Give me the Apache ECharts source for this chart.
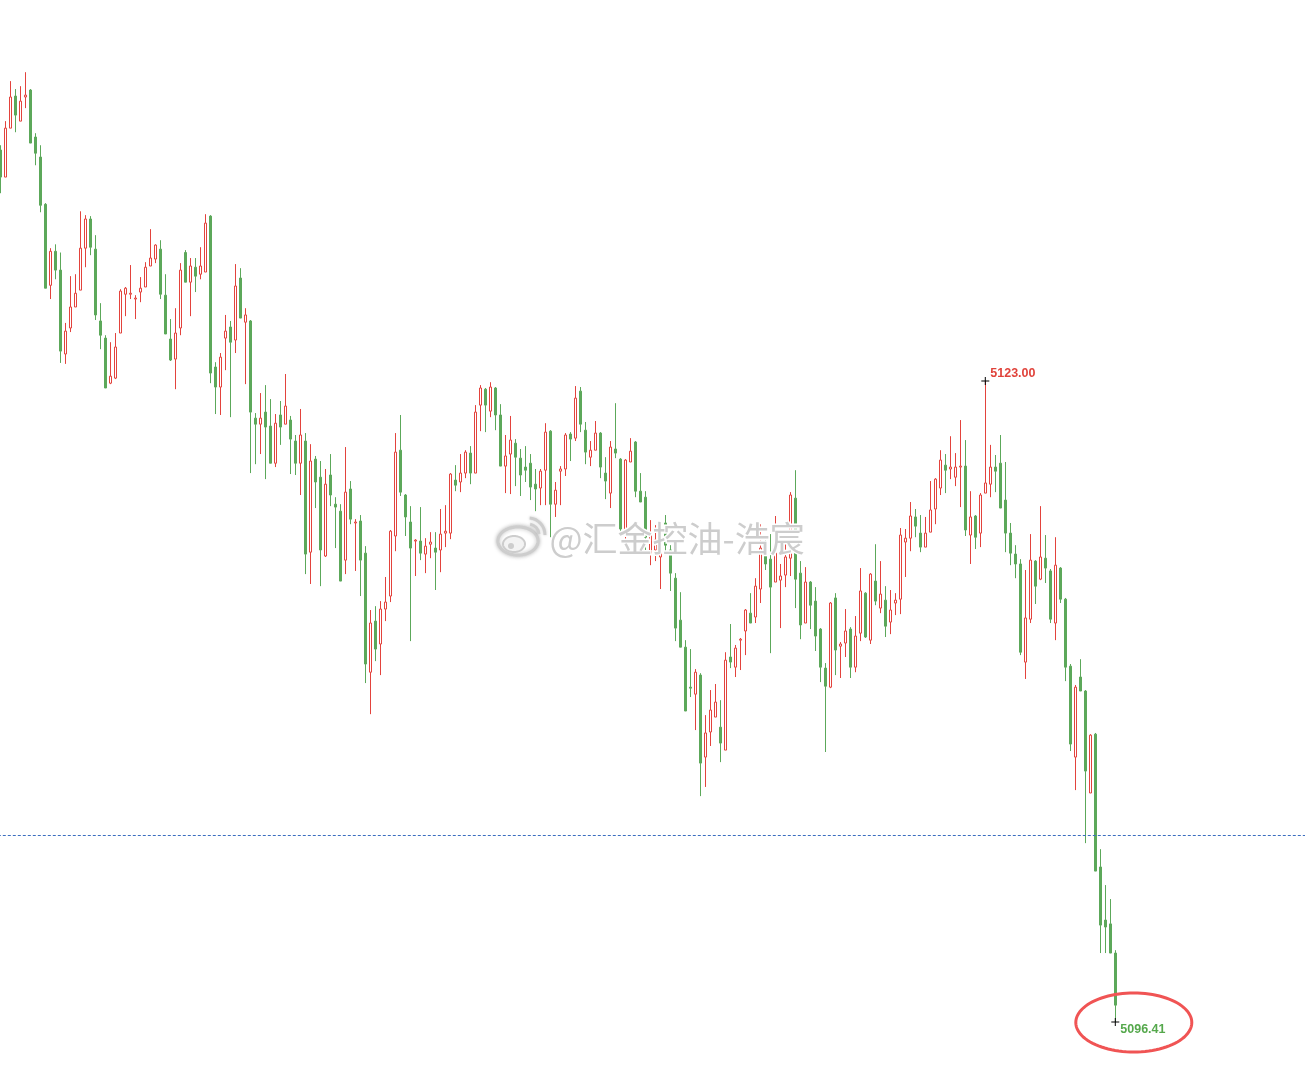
<!DOCTYPE html>
<html>
<head>
<meta charset="utf-8">
<script src="https://cdn.jsdelivr.net/npm/echarts@6/dist/echarts.min.js"></script>
<style>
html,body{margin:0;padding:0;background:#ffffff;}
#chart{width:1305px;height:1072px;}
</style>
</head>
<body>
<div id="chart"></div>
<script>
// OHLC rows: [open, close, low, high]
const ohlc = [
[5132.58,5131.46,5130.79,5132.78],[5131.46,5133.49,5131.46,5133.78],[5133.49,5134.78,5133.49,5135.44],[5134.82,5134.03,5133.32,5135.11],
[5133.78,5134.61,5133.78,5135.23],[5134.78,5134.86,5134.32,5135.81],[5135.07,5132.87,5132.87,5135.11],[5133.12,5132.45,5131.95,5133.28],
[5132.29,5130.29,5130.00,5132.78],[5130.33,5126.85,5126.85,5130.38],[5126.97,5128.38,5126.40,5128.51],[5128.38,5127.60,5127.22,5128.67],
[5127.60,5124.24,5123.75,5128.33],[5124.12,5125.07,5123.71,5125.41],[5125.20,5126.07,5125.03,5127.35],[5126.07,5126.64,5126.07,5127.43],
[5126.77,5128.51,5126.77,5130.04],[5128.51,5129.72,5127.72,5129.88],[5129.72,5128.55,5128.22,5129.84],[5128.47,5125.74,5125.53,5129.05],
[5125.49,5124.90,5124.32,5126.23],[5124.78,5122.71,5122.71,5124.90],[5122.91,5123.20,5122.87,5124.61],[5123.12,5124.41,5123.08,5124.99],
[5124.99,5126.73,5124.99,5126.81],[5126.60,5126.85,5125.69,5126.90],[5126.60,5126.64,5126.40,5127.81],[5126.40,5126.44,5125.57,5126.56],
[5126.69,5126.85,5126.27,5127.31],[5126.90,5127.72,5126.90,5127.93],[5127.77,5128.10,5127.77,5129.30],[5128.06,5128.64,5127.89,5128.67],
[5128.47,5126.60,5126.40,5128.84],[5126.56,5124.95,5124.95,5127.43],[5124.74,5123.87,5123.83,5125.57],[5123.91,5124.99,5122.66,5126.02],
[5125.20,5127.60,5124.90,5127.89],[5128.33,5127.10,5127.10,5128.43],[5127.10,5127.77,5125.69,5128.10],[5127.72,5127.35,5126.69,5128.10],
[5127.43,5127.77,5127.22,5128.55],[5127.52,5129.55,5127.52,5129.92],[5129.84,5123.33,5122.91,5129.88],[5123.58,5122.75,5121.63,5123.78],
[5122.75,5123.99,5121.59,5124.16],[5124.78,5125.07,5123.45,5125.74],[5125.24,5124.61,5121.50,5125.49],[5124.70,5126.94,5124.16,5127.85],
[5127.27,5125.61,5125.61,5127.68],[5125.44,5125.74,5122.87,5126.02],[5125.49,5121.71,5119.18,5125.53],[5121.46,5121.21,5119.55,5121.67],
[5121.21,5121.46,5119.97,5122.50],[5121.71,5121.09,5118.93,5122.83],[5121.13,5119.59,5119.59,5122.25],[5119.59,5121.25,5119.43,5121.63],
[5121.59,5121.09,5120.35,5122.17],[5121.21,5121.96,5121.21,5123.29],[5121.38,5120.59,5119.14,5121.55],[5120.51,5119.59,5119.10,5120.76],
[5119.59,5120.76,5118.27,5121.84],[5120.51,5115.82,5114.99,5120.84],[5115.90,5119.68,5114.58,5120.38],[5119.76,5118.81,5117.73,5119.89],
[5119.01,5115.99,5114.49,5119.68],[5115.74,5118.72,5115.70,5119.35],[5119.10,5118.27,5117.81,5119.97],[5117.89,5117.77,5116.07,5118.18],
[5117.60,5114.70,5114.70,5117.89],[5115.57,5118.39,5114.99,5120.26],[5118.52,5117.27,5117.06,5118.85],[5117.11,5117.15,5115.12,5117.27],
[5117.19,5115.57,5114.08,5117.44],[5115.86,5111.26,5110.47,5116.15],[5110.92,5112.96,5109.18,5113.50],[5113.04,5111.88,5111.38,5113.66],
[5112.09,5113.54,5110.80,5113.87],[5113.54,5113.83,5113.04,5114.87],[5114.08,5116.77,5113.83,5116.82],[5116.57,5120.05,5115.94,5120.84],
[5120.13,5118.39,5118.23,5121.59],[5118.27,5117.36,5116.57,5118.31],[5117.15,5116.07,5112.21,5117.81],[5116.36,5116.40,5114.91,5116.44],
[5116.36,5115.86,5115.57,5117.77],[5115.82,5116.15,5115.03,5116.48],[5116.23,5116.32,5115.65,5116.73],[5116.07,5115.90,5114.33,5116.73],
[5115.99,5116.65,5115.07,5117.69],[5116.69,5116.77,5116.11,5117.85],[5116.69,5119.14,5116.44,5119.18],[5118.89,5118.68,5118.43,5119.51],
[5118.81,5119.18,5118.39,5119.97],[5119.18,5120.05,5118.97,5120.13],[5120.01,5119.18,5118.72,5120.30],[5119.18,5121.71,5119.18,5122.00],
[5122.00,5122.71,5120.92,5122.83],[5122.66,5122.00,5120.88,5122.71],[5121.75,5122.75,5121.50,5122.95],[5122.71,5121.59,5120.96,5122.75],
[5121.59,5119.47,5119.47,5122.04],[5119.47,5119.89,5118.35,5120.76],[5119.97,5120.55,5118.31,5121.55],[5120.42,5119.84,5118.64,5120.59],
[5119.80,5119.10,5118.23,5120.18],[5119.43,5119.30,5118.81,5120.30],[5119.59,5118.60,5118.06,5119.97],[5118.72,5118.52,5117.60,5119.35],
[5118.56,5119.26,5117.85,5119.35],[5119.30,5120.88,5117.85,5121.25],[5120.92,5117.89,5116.52,5120.96],[5117.89,5118.47,5117.36,5118.81],
[5119.26,5119.35,5117.85,5119.47],[5119.35,5120.76,5119.06,5120.84],[5120.80,5120.59,5119.68,5120.88],[5120.63,5122.29,5120.51,5122.79],
[5122.58,5121.21,5120.88,5122.75],[5120.96,5120.05,5119.55,5121.30],[5119.84,5120.13,5119.47,5120.51],[5120.13,5120.84,5120.13,5121.34],
[5120.84,5119.43,5118.97,5120.88],[5119.18,5118.85,5118.10,5119.84],[5118.35,5120.26,5117.73,5120.51],[5120.18,5120.01,5119.80,5122.08],
[5119.76,5116.86,5116.69,5119.80],[5116.73,5119.72,5116.19,5119.76],[5119.64,5120.09,5119.64,5120.63],[5120.47,5118.43,5118.18,5120.51],
[5118.43,5117.98,5117.98,5119.18],[5118.18,5116.52,5115.99,5118.43],[5115.86,5116.69,5115.36,5117.23],[5115.99,5116.40,5115.53,5117.02],
[5115.70,5117.02,5114.37,5117.06],[5117.11,5116.19,5115.78,5117.44],[5115.99,5115.03,5114.29,5116.19],[5114.82,5112.75,5112.21,5115.03],
[5113.08,5111.96,5111.96,5114.24],[5111.96,5109.31,5109.31,5112.25],[5110.30,5110.26,5109.89,5111.88],[5110.01,5110.92,5108.52,5111.05],
[5110.80,5107.15,5105.78,5110.88],[5107.40,5108.40,5106.16,5109.14],[5108.44,5109.35,5107.86,5110.18],[5109.06,5109.68,5109.06,5110.43],
[5108.64,5107.98,5107.19,5109.76],[5107.69,5111.42,5107.69,5111.75],[5111.55,5111.34,5111.09,5112.92],[5111.13,5111.92,5110.72,5112.05],
[5112.25,5112.29,5111.01,5112.34],[5112.63,5113.50,5111.63,5113.54],[5113.37,5112.96,5112.96,5114.20],[5113.21,5114.49,5112.96,5114.82],
[5114.37,5116.07,5113.79,5117.06],[5116.23,5115.41,5115.16,5116.52],[5115.61,5114.45,5111.71,5116.65],[5114.66,5115.90,5114.66,5117.40],
[5114.74,5114.91,5112.75,5115.41],[5114.95,5115.70,5114.45,5116.28],[5115.65,5118.27,5114.91,5118.39],[5118.14,5114.78,5113.58,5119.30],
[5115.03,5112.88,5112.29,5115.53],[5112.96,5114.66,5112.96,5115.28],[5114.66,5113.70,5112.71,5114.70],[5113.87,5112.42,5111.80,5114.45],
[5112.71,5111.13,5110.51,5112.75],[5111.09,5110.34,5107.61,5111.30],[5110.30,5113.79,5110.26,5113.83],[5114.00,5111.84,5110.80,5114.20],
[5112.00,5112.09,5110.68,5112.17],[5112.13,5112.63,5111.55,5113.54],[5112.71,5111.13,5110.68,5112.79],[5111.13,5112.42,5110.92,5113.25],
[5112.54,5114.29,5112.21,5115.24],[5114.20,5112.38,5112.34,5114.24],[5112.25,5114.99,5112.09,5115.03],[5114.70,5113.87,5113.70,5116.23],
[5113.58,5114.16,5113.37,5115.53],[5113.91,5112.83,5112.38,5114.49],[5113.00,5113.50,5112.50,5114.33],[5113.79,5113.91,5113.29,5114.20],
[5113.95,5116.61,5113.33,5116.90],[5116.32,5116.48,5114.87,5116.86],[5116.48,5117.40,5115.94,5117.98],[5117.36,5116.98,5116.52,5117.69],
[5116.69,5116.11,5115.90,5117.44],[5116.11,5116.69,5116.11,5117.36],[5116.73,5117.65,5116.73,5118.85],[5117.69,5118.93,5117.06,5118.97],
[5118.56,5119.72,5118.27,5120.13],[5119.51,5119.30,5118.35,5119.97],[5119.35,5119.43,5118.93,5120.71],[5119.01,5119.43,5118.64,5120.01],
[5119.43,5119.47,5117.77,5121.38],[5119.47,5116.82,5116.57,5120.55],[5116.61,5117.36,5115.41,5118.43],[5117.40,5116.52,5116.03,5117.44],
[5116.69,5118.27,5116.11,5118.35],[5118.35,5118.77,5118.35,5123.00],[5118.72,5119.43,5118.18,5120.35],[5119.43,5119.26,5118.39,5119.93],
[5119.59,5117.73,5117.73,5120.76],[5118.06,5116.69,5115.90,5119.64],[5116.69,5115.86,5115.36,5117.11],[5115.82,5115.41,5114.82,5116.19],
[5115.41,5111.75,5111.63,5115.61],[5111.34,5113.17,5110.64,5115.16],[5113.12,5115.57,5112.96,5116.65],[5115.53,5114.49,5113.75,5115.57],
[5114.78,5115.70,5114.74,5117.81],[5115.65,5115.24,5114.62,5116.61],[5115.12,5113.12,5112.96,5115.20],[5112.96,5115.36,5112.25,5116.52],
[5115.24,5113.95,5113.79,5115.28],[5113.95,5111.13,5110.55,5114.00],[5111.17,5107.94,5107.65,5111.26],[5107.40,5110.30,5106.03,5110.39],
[5110.72,5110.14,5110.14,5111.46],[5110.14,5106.82,5103.83,5110.18],[5105.91,5108.31,5105.91,5108.35],[5108.35,5102.67,5102.67,5108.40],
[5102.84,5100.43,5099.27,5103.58],[5100.64,5100.35,5099.27,5102.09],[5100.48,5099.27,5099.27,5101.51],[5099.27,5097.11,5096.41,5099.39]
];

const slotCount = 262;                 // category slots across the plot (candles fill the first part)
const priceMin = 5094.336, priceMax = 5138.805;
const refLine = 5104.17;
const highMark = {index: 197, value: 5123.00};
const lowMark = {index: 223, value: 5096.41};
const watermarkText = '@汇金控油-浩宸';

const categories = [];
for (let i = 0; i < slotCount; i++) categories.push(String(i));

const UP = '#e3433d', DOWN = '#5ca85a';
const chart = echarts.init(document.getElementById('chart'), null, {renderer: 'canvas'});

chart.setOption({
  animation: false,
  backgroundColor: '#ffffff',
  grid: {left: -2.2, top: 0, width: slotCount * 5, height: 1072, outerBoundsMode: 'none', containLabel: false},
  xAxis: {type: 'category', data: categories, show: false, boundaryGap: true},
  yAxis: {type: 'value', min: priceMin, max: priceMax, show: false, splitLine: {show: false}, scale: true},
  series: [{
    type: 'candlestick',
    data: ohlc,
    barWidth: 3,
    clip: false,
    itemStyle: {color: '#ffffff', color0: DOWN, borderColor: UP, borderColor0: DOWN, borderWidth: 1},
    markLine: {
      silent: true, symbol: 'none', label: {show: false},
      lineStyle: {type: [3, 2], color: '#3c6fc0', width: 1},
      data: [{yAxis: refLine}]
    },
    markPoint: {
      silent: true,
      symbol: 'path://M0,3.5h8v1h-8z M3.5,0h1v8h-1z',
      symbolSize: 8,
      itemStyle: {color: '#000000'},
      label: {show: true, position: 'right', distance: 1, fontSize: 12.5, fontWeight: 'bold', fontFamily: 'Arial',
               formatter: p => Number(p.value).toFixed(2)},
      data: [
        {coord: [highMark.index, highMark.value], value: highMark.value, label: {color: '#e0433b', offset: [0, -7]}},
        {coord: [lowMark.index, lowMark.value], value: lowMark.value, label: {color: '#55a84c', offset: [0, 8]}}
      ]
    }
  }]
});

function ellipsePts(cx, cy, rx, ry) {
  const pts = [];
  for (let i = 0; i < 96; i++) {
    const a = i / 96 * Math.PI * 2;
    pts.push([cx + rx * Math.cos(a), cy + ry * Math.sin(a)]);
  }
  return pts;
}

const lp = chart.convertToPixel({seriesIndex: 0}, [lowMark.index, lowMark.value]);
const wmGray = '#cdcdcd';
chart.setOption({
  graphic: [
    {type: 'polygon', z: 100, silent: true,
     shape: {points: ellipsePts(lp[0] + 18.5, lp[1] + 0.5, 58, 29.5)},
     style: {fill: 'none', stroke: '#f05454', lineWidth: 3}},
    // watermark logo
    {type: 'polygon', z: 90, silent: true, shape: {points: ellipsePts(518, 541, 20, 14)},
     style: {fill: '#ffffff', stroke: wmGray, lineWidth: 3, shadowBlur: 4, shadowColor: 'rgba(0,0,0,0.25)'}},
    {type: 'polygon', z: 91, silent: true, shape: {points: ellipsePts(514, 544, 11, 8)},
     style: {fill: '#f3f3f3', stroke: wmGray, lineWidth: 2}},
    {type: 'circle', z: 92, silent: true, shape: {cx: 511, cy: 546, r: 3}, style: {fill: wmGray}},
    {type: 'arc', z: 91, silent: true, shape: {cx: 528, cy: 535, r: 11, startAngle: -Math.PI / 2 + 0.2, endAngle: -0.1},
     style: {stroke: wmGray, lineWidth: 3, fill: 'none', shadowBlur: 3, shadowColor: 'rgba(0,0,0,0.2)'}},
    {type: 'arc', z: 91, silent: true, shape: {cx: 528, cy: 535, r: 17, startAngle: -Math.PI / 2 + 0.1, endAngle: 0},
     style: {stroke: wmGray, lineWidth: 3, fill: 'none', shadowBlur: 3, shadowColor: 'rgba(0,0,0,0.2)'}},
    {type: 'text', z: 90, silent: true, left: 548, top: 520,
     style: {text: watermarkText, font: '35px "Noto Sans CJK SC"', fill: wmGray,
             stroke: '#ffffff', lineWidth: 3, shadowBlur: 6, shadowColor: 'rgba(0,0,0,0.3)'}}
  ]
});
</script>
</body>
</html>
